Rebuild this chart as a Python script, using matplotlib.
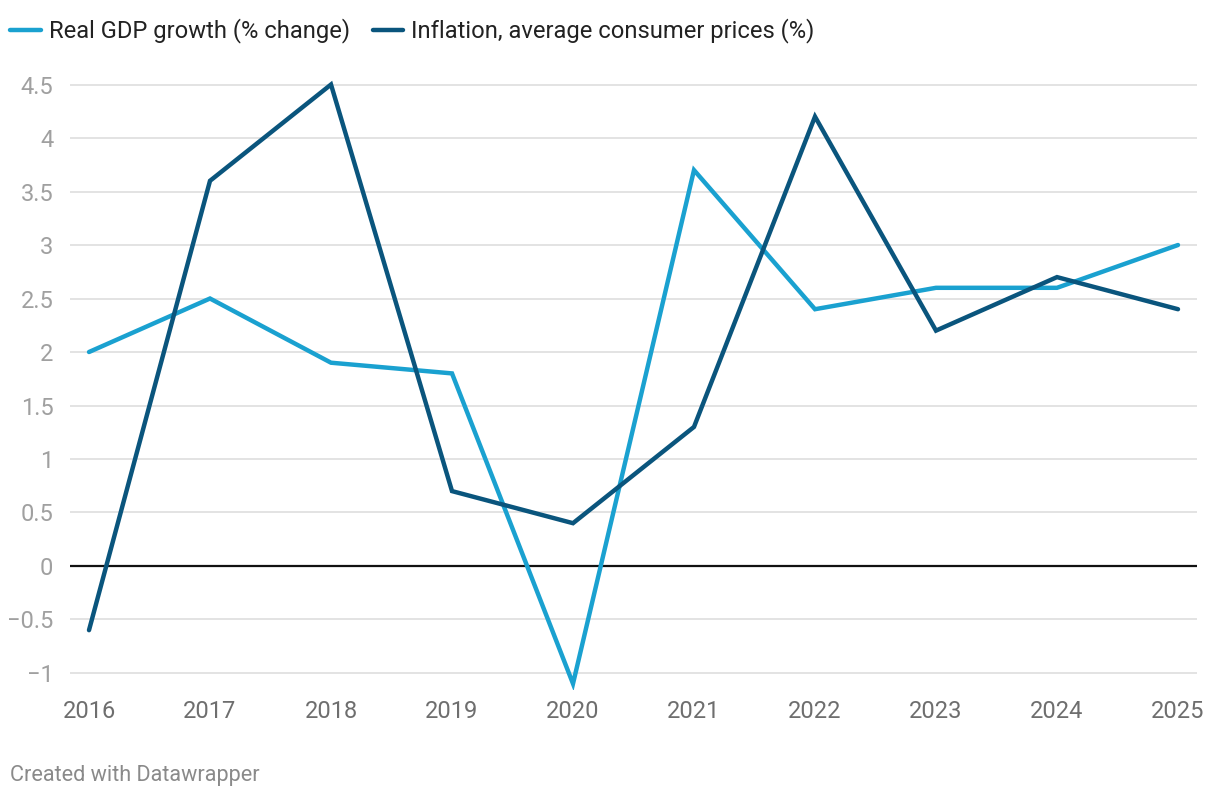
import matplotlib.pyplot as plt
from matplotlib.lines import Line2D
from matplotlib.ticker import FuncFormatter

plt.rcParams['font.family'] = ['Roboto', 'DejaVu Sans']

# data
years = [2016, 2017, 2018, 2019, 2020, 2021, 2022, 2023, 2024, 2025]
gdp_growth = [2.0, 2.5, 1.9, 1.8, -1.1, 3.7, 2.4, 2.6, 2.6, 3.0]
inflation = [-0.6, 3.6, 4.5, 0.7, 0.4, 1.3, 4.2, 2.2, 2.7, 2.4]
y_ticks = [-1, -0.5, 0, 0.5, 1, 1.5, 2, 2.5, 3, 3.5, 4, 4.5]

gdp_color = '#1aa1d0'
infl_color = '#0a557d'

fig = plt.figure(figsize=(12.2, 8), dpi=100)
ax = fig.add_axes([70 / 1220, 110 / 800, 1127 / 1220, 612 / 800])

for y in y_ticks:
    if y == 0:
        continue
    ax.axhline(y, color='#e3e3e3', lw=1.4, zorder=1)
ax.axhline(0, color='#111111', lw=1.6, zorder=2)

ax.plot(years, gdp_growth, color=gdp_color, lw=3.2, zorder=3,
        solid_capstyle='round', solid_joinstyle='miter')
ax.plot(years, inflation, color=infl_color, lw=3.2, zorder=4,
        solid_capstyle='round', solid_joinstyle='miter')

ax.set_xlim(2016 - 19 / 121, 2025 + 19 / 121)
ax.set_ylim(-1.159, 4.561)
ax.set_xticks(years)
ax.set_yticks(y_ticks)
ax.yaxis.set_major_formatter(FuncFormatter(lambda v, p: f'{v:g}'.replace('-', '\u2212')))

ax.tick_params(axis='y', length=0, pad=12, labelsize=17, labelcolor='#a0a0a0')
ax.tick_params(axis='x', length=0, pad=7, labelsize=17, labelcolor='#6e6e6e')
for s in ax.spines.values():
    s.set_visible(False)

# legend along the top
fig.add_artist(Line2D([10 / 1220, 41 / 1220], [770 / 800, 770 / 800], color=gdp_color, lw=3.2,
                      solid_capstyle='round'))
fig.text(49 / 1220, 769 / 800, 'Real GDP growth (% change)', fontsize=17.1, color='#222222', va='center')
fig.add_artist(Line2D([373 / 1220, 403 / 1220], [770 / 800, 770 / 800], color=infl_color, lw=3.2,
                      solid_capstyle='round'))
fig.text(411 / 1220, 769 / 800, 'Inflation, average consumer prices (%)', fontsize=17.1, color='#222222',
         va='center')

fig.text(10 / 1220, 24 / 800, 'Created with Datawrapper', fontsize=15.6, color='#8a8a8a', va='center')

fig.savefig('out.png', dpi=100)
